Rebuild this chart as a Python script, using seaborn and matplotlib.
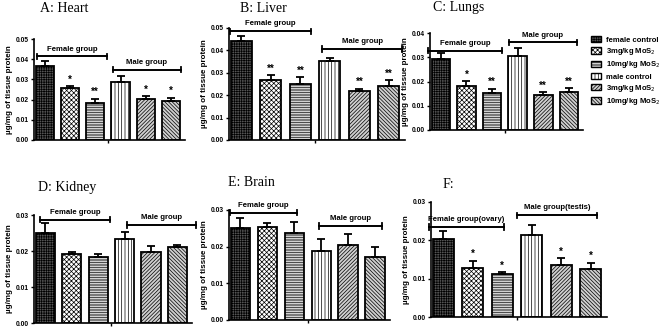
import numpy as np
import pandas as pd
import matplotlib
matplotlib.use('Agg')
import matplotlib.pyplot as plt
import matplotlib.patches as mpatches
import seaborn as sns

# groups, same order in every panel
groups = ['female control', 'female 3mg', 'female 10mg', 'male control', 'male 3mg', 'male 10mg']
legend_labels = ['female control', '3mg/kg MoS$_2$', '10mg/kg MoS$_2$',
                 'male control', '3mg/kg MoS$_2$', '10mg/kg MoS$_2$']

heart = [0.0364, 0.0255, 0.0185, 0.0286, 0.0204, 0.0194]
heart_err = [0.0028, 0.0013, 0.0019, 0.0030, 0.0013, 0.0015]
heart_sig = ['', '*', '**', '', '*', '*']

liver = [0.0443, 0.0266, 0.0252, 0.0353, 0.0217, 0.0240]
liver_err = [0.0022, 0.0024, 0.0029, 0.0014, 0.0011, 0.0026]
liver_sig = ['', '**', '**', '', '**', '**']

lungs = [0.0292, 0.0180, 0.0152, 0.0305, 0.0146, 0.0156]
lungs_err = [0.0024, 0.0022, 0.0018, 0.0032, 0.0010, 0.0017]
lungs_sig = ['', '*', '**', '', '**', '**']

kidney = [0.0251, 0.0191, 0.0182, 0.0233, 0.0198, 0.0212]
kidney_err = [0.0028, 0.0006, 0.0011, 0.0020, 0.0016, 0.0006]
kidney_sig = ['', '', '', '', '', '']

brain = [0.0251, 0.0254, 0.0236, 0.0187, 0.0204, 0.0171]
brain_err = [0.0027, 0.0011, 0.0031, 0.0034, 0.0030, 0.0029]
brain_sig = ['', '', '', '', '', '']

gonad = [0.0203, 0.0129, 0.0111, 0.0215, 0.0136, 0.0125]
gonad_err = [0.0021, 0.0017, 0.0006, 0.0024, 0.0017, 0.0016]
gonad_sig = ['', '*', '*', '', '*', '*']

hatches = ['+++++++', 'xxxxxxx', '----------', '|||||', '/////////', '\\\\\\\\\\\\\\\\\\']
faces = ['#555555', 'white', 'white', 'white', '#cfcfcf', '#cfcfcf']

plt.rcParams['hatch.linewidth'] = 0.5
plt.rcParams['font.family'] = ['Liberation Sans', 'DejaVu Sans']

fig = plt.figure(figsize=(6.69, 3.27), dpi=100)
W, H = 669, 327


def px_axes(left, top, right, bottom):
    return fig.add_axes([left / W, 1 - bottom / H, (right - left) / W, (bottom - top) / H])


def panel(ax, vals, errs, sig, ymax, step, fem, male, fem_txt='Female group', male_txt='Male group'):
    df = pd.DataFrame({'group': groups, 'value': vals})
    sns.barplot(data=df, x='group', y='value', order=groups, ax=ax, errorbar=None,
                width=0.72, color='white', edgecolor='black', linewidth=1.3)
    for p, h, fc in zip(ax.patches, hatches, faces):
        p.set_hatch(h)
        p.set_facecolor(fc)
    x = np.arange(len(groups))
    ax.errorbar(x, vals, yerr=[np.zeros(len(vals)), errs], fmt='none', ecolor='black',
                elinewidth=1.3, capsize=3, capthick=1.3)
    for xi, v, e, s in zip(x, vals, errs, sig):
        if s:
            ax.text(xi, v + e + ymax * 0.015, s, ha='center', va='bottom', fontsize=7, fontweight='bold')
    # group brackets
    for (y, x0, x1, txt) in [(fem[0], fem[1], fem[2], fem_txt), (male[0], male[1], male[2], male_txt)]:
        ax.plot([x0, x1], [y, y], color='black', lw=1.4, clip_on=False)
        for xe in (x0, x1):
            ax.plot([xe, xe], [y - ymax * 0.025, y + ymax * 0.025], color='black', lw=1.3, clip_on=False)
        ax.text((x0 + x1) / 2, y + ymax * 0.035, txt, ha='center', va='bottom', fontsize=5.6,
                fontweight='bold')
    ax.set_ylim(0, ymax)
    ax.set_xlim(-0.42, 5.55)
    ticks = np.arange(0, ymax + step / 2, step)
    ax.set_yticks(ticks)
    ax.set_yticklabels(['%.2f' % t for t in ticks], fontsize=4.8, fontweight='bold')
    ax.set_xticks([2.5])
    ax.set_xticklabels([''])
    ax.tick_params(axis='x', length=2.5, width=1)
    ax.tick_params(axis='y', length=2.5, width=1, pad=1.5)
    ax.set_xlabel('')
    ax.set_ylabel('\u00b5g/mg of tissue protein', fontsize=5.8, fontweight='bold', labelpad=2)
    sns.despine(ax=ax)
    for sp in ('left', 'bottom'):
        ax.spines[sp].set_linewidth(1.2)


axA = px_axes(34, 39, 185, 140)
panel(axA, heart, heart_err, heart_sig, 0.05, 0.01, (0.0414, -0.3, 2.45), (0.0348, 2.7, 5.4))
axB = px_axes(229, 28, 405, 140)
panel(axB, liver, liver_err, liver_sig, 0.05, 0.01, (0.0485, -0.4, 2.35), (0.0405, 2.75, 5.45))
axC = px_axes(430, 33, 583, 130)
panel(axC, lungs, lungs_err, lungs_sig, 0.04, 0.01, (0.0327, -0.5, 2.4), (0.0362, 2.65, 5.3))
axD = px_axes(34, 215, 192, 323)
panel(axD, kidney, kidney_err, kidney_sig, 0.03, 0.01, (0.0287, -0.2, 2.45), (0.0272, 3.1, 5.7))
axE = px_axes(229, 210, 390, 320)
panel(axE, brain, brain_err, brain_sig, 0.03, 0.01, (0.0293, -0.4, 2.1), (0.0257, 2.9, 5.25))
axF = px_axes(431, 202, 607, 317)
panel(axF, gonad, gonad_err, gonad_sig, 0.03, 0.01, (0.0235, -0.5, 2.05), (0.0265, 2.5, 5.2),
      fem_txt='Female group(ovary)', male_txt='Male group(testis)')

# panel titles
for (x, y, t) in [(40, 8, 'A: Heart'), (240, 8, 'B: Liver'), (433, 8, 'C: Lungs'),
                  (38, 187, 'D: Kidney'), (228, 183, 'E: Brain'), (443, 185, 'F:')]:
    fig.text(x / W, 1 - y / H, t, fontsize=10, family='Liberation Serif', va='center', ha='left')

handles = [mpatches.Patch(facecolor=fc, edgecolor='black', hatch=h, linewidth=1)
           for h, fc in zip(hatches, faces)]
fig.legend(handles, legend_labels, loc='upper left', bbox_to_anchor=(588 / W, 1 - 33 / H),
           frameon=False, handlelength=1.3, handleheight=0.9,
           labelspacing=0.3, handletextpad=0.6, borderaxespad=0,
           prop={'weight': 'bold', 'size': 5.5})

fig.savefig('out.png', dpi=100)
